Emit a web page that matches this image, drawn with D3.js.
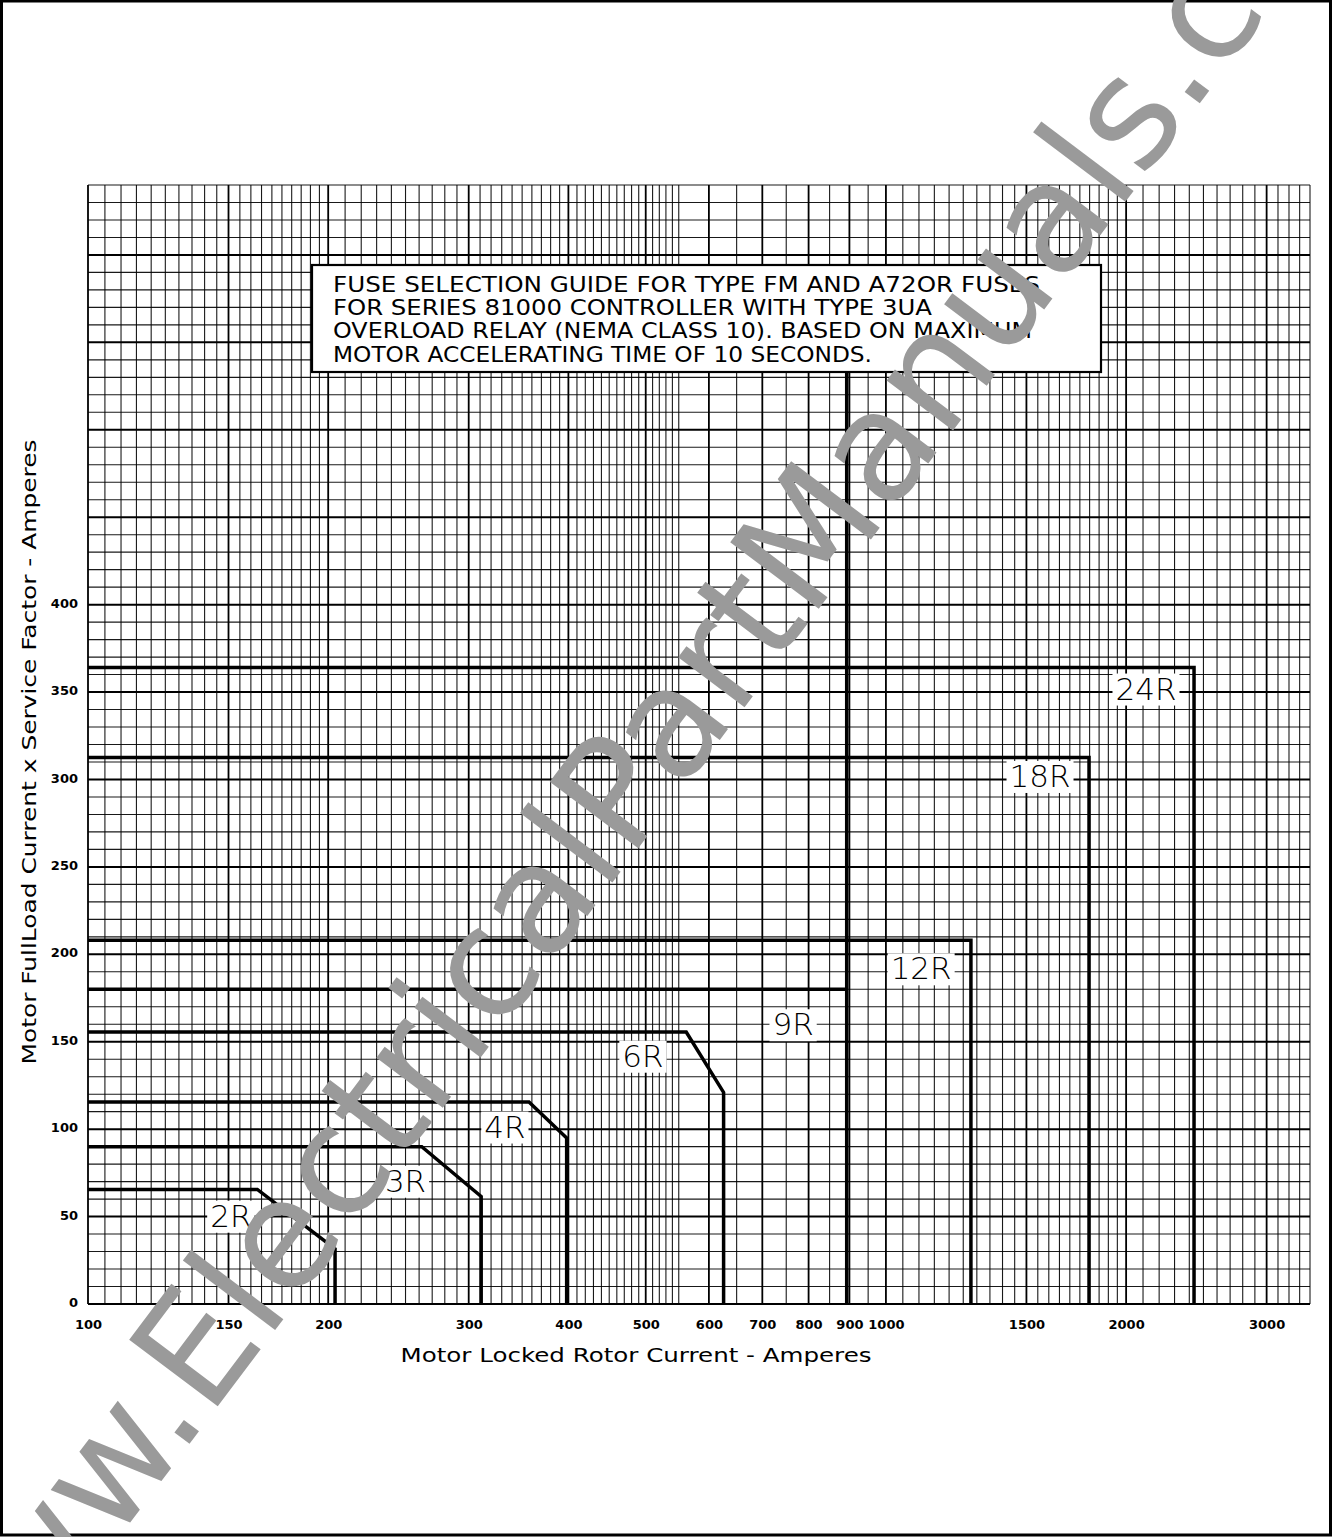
<!DOCTYPE html>
<html>
<head>
<meta charset="utf-8">
<script src="https://cdn.jsdelivr.net/npm/d3@7"></script>
<style>
  body { margin: 0; background: #fff; }
  svg text { font-family: "DejaVu Sans", sans-serif; }
  .tick-label text { font-weight: bold; font-size: 13px; fill: #000; }
</style>
</head>
<body>
<svg id="chart" width="1332" height="1537"></svg>
<script>
// ---- data ----
const xTickValues = [100, 150, 200, 300, 400, 500, 600, 700, 800, 900, 1000, 1500, 2000, 3000];
const yTickValues = [0, 50, 100, 150, 200, 250, 300, 350, 400];

// graph paper: [from, to, step] for the log axis
const xGridSteps = [[100, 200, 5], [200, 550, 10], [550, 1000, 50], [1000, 2000, 50], [2000, 3400, 100]];
const xGridMajor = [100, 150, 200, 300, 400, 500, 600, 700, 800, 900, 1000, 1500, 2000, 3000];
const yGridStep = 10;
const yGridMajorStep = 50;

const fuseNames = ["2R", "3R", "4R", "6R", "9R", "12R", "18R", "24R"];
// each fuse boundary: [locked rotor A, full load A]
const fuseCurves = [
  [[100, 65.5], [163, 65.5], [204, 31.5], [204, 0]],
  [[100, 90], [262, 90], [311, 61.5], [311, 0]],
  [[100, 115.5], [357, 115.5], [398, 95], [398, 0]],
  [[100, 155.5], [562, 155.5], [626, 121], [626, 0]],
  [[100, 180], [891, 180]],
  [[100, 208], [1278, 208], [1278, 0]],
  [[100, 312.5], [1797, 312.5], [1797, 0]],
  [[100, 364], [2433, 364], [2433, 0]]
];
// the 9R boundary drawn as one long vertical stroke up under the note box
const nineRVertical = [[893, 0], [893, 560]];
const fuseLabelPos = [
  [151, 50.5], [250, 70.5], [333, 101.5], [496, 142],
  [765, 160], [1107, 192], [1560, 302], [2118, 352]
];

const noteLines = [
  "FUSE SELECTION GUIDE FOR TYPE FM  AND A72OR FUSES",
  "FOR SERIES 81000 CONTROLLER WITH TYPE 3UA",
  "OVERLOAD RELAY (NEMA CLASS 10). BASED ON MAXIMUM",
  "MOTOR ACCELERATING TIME OF 10 SECONDS."
];
const noteLineLengths = [707, 599, 699, 539];

const xTitle = "Motor Locked Rotor Current - Amperes";
const yTitle = "Motor FullLoad Current x Service Factor - Amperes";
const watermark = "www.ElectricalPartManuals.com";

// ---- drawing ----
const svg = d3.select("#chart");

const x = d3.scaleLog().domain([100, 3400]).range([88, 1310]);
const y = d3.scaleLinear().domain([0, 640]).range([1304, 185]);

// page frame
svg.append("rect")
  .attr("x", 1.5).attr("y", 1).attr("width", 1329).attr("height", 1534)
  .attr("fill", "none").attr("stroke", "#000").attr("stroke-width", 3);

// vertical grid
const xGridValues = [];
for (const [a, b, s] of xGridSteps) {
  for (const v of d3.range(a, b, s)) xGridValues.push(v);
}
xGridValues.push(3400);

const grid = svg.append("g").attr("class", "grid");
grid.selectAll("line.vx")
  .data(xGridValues)
  .enter()
  .append("line")
  .attr("class", "vx")
  .attr("x1", (d) => x(d)).attr("x2", (d) => x(d))
  .attr("y1", y(640)).attr("y2", y(0))
  .attr("stroke", "#000")
  .attr("stroke-width", (d) => (xGridMajor.includes(d) ? 1.8 : 1.1))
  .attr("stroke-opacity", (d) => (xGridMajor.includes(d) ? 1 : 0.9));

// horizontal grid
grid.selectAll("line.hy")
  .data(d3.range(0, 641, yGridStep))
  .enter()
  .append("line")
  .attr("class", "hy")
  .attr("x1", x(100)).attr("x2", x(3400))
  .attr("y1", (d) => y(d)).attr("y2", (d) => y(d))
  .attr("stroke", "#000")
  .attr("stroke-width", (d) => (d % yGridMajorStep === 0 ? 2 : 1.1))
  .attr("stroke-opacity", (d) => (d % yGridMajorStep === 0 ? 1 : 0.9));

// axes (labels only, the paper is the grid)
const xAxis = svg.append("g")
  .attr("class", "tick-label")
  .attr("transform", `translate(0, ${y(0)})`)
  .call(d3.axisBottom(x).tickValues(xTickValues).tickFormat(d3.format("d")).tickSize(0).tickPadding(16));
xAxis.select(".domain").remove();

const yAxis = svg.append("g")
  .attr("class", "tick-label")
  .attr("transform", `translate(${x(100)}, 0)`)
  .call(d3.axisLeft(y).tickValues(yTickValues).tickSize(0).tickPadding(10));
yAxis.select(".domain").remove();
yAxis.selectAll("text").attr("dy", "0.2em");

// fuse boundaries
const line = d3.line().x((d) => x(d[0])).y((d) => y(d[1]));
const curves = svg.append("g").attr("class", "fuses");
curves.selectAll("path")
  .data(fuseCurves)
  .enter()
  .append("path")
  .attr("d", line)
  .attr("fill", "none")
  .attr("stroke", "#000")
  .attr("stroke-width", 3.5)
  .attr("stroke-linejoin", "miter");
curves.append("path")
  .datum(nineRVertical)
  .attr("d", line)
  .attr("fill", "none")
  .attr("stroke", "#000")
  .attr("stroke-width", 3.5);

// fuse labels on white patches
const labels = svg.append("g").attr("class", "fuse-labels");
fuseNames.forEach((name, i) => {
  const g = labels.append("g");
  const t = g.append("text")
    .attr("x", x(fuseLabelPos[i][0]))
    .attr("y", y(fuseLabelPos[i][1]))
    .attr("text-anchor", "middle")
    .attr("dominant-baseline", "central")
    .attr("font-size", 31)
    .attr("font-weight", 300)
    .text(name);
  const bb = t.node().getBBox();
  g.insert("rect", "text")
    .attr("x", bb.x - 3).attr("y", bb.y + 3)
    .attr("width", bb.width + 6).attr("height", bb.height - 4)
    .attr("fill", "#fff");
});

// note box
const note = svg.append("g").attr("class", "note");
note.append("rect")
  .attr("x", 312).attr("y", 265).attr("width", 789).attr("height", 107)
  .attr("fill", "#fff").attr("stroke", "#000").attr("stroke-width", 2.2);
note.selectAll("text")
  .data(noteLines)
  .enter()
  .append("text")
  .attr("x", 333)
  .attr("y", (d, i) => 292 + i * 23.2)
  .attr("font-size", 21)
  .attr("textLength", (d, i) => noteLineLengths[i])
  .attr("lengthAdjust", "spacingAndGlyphs")
  .text((d) => d);

// axis titles
svg.append("text")
  .attr("x", 636).attr("y", 1362)
  .attr("text-anchor", "middle")
  .attr("font-size", 20)
  .attr("textLength", 471)
  .attr("lengthAdjust", "spacingAndGlyphs")
  .text(xTitle);

svg.append("text")
  .attr("transform", "translate(36, 752) rotate(-90)")
  .attr("text-anchor", "middle")
  .attr("font-size", 20)
  .attr("textLength", 625)
  .attr("lengthAdjust", "spacingAndGlyphs")
  .text(yTitle);

// watermark over everything
svg.append("text")
  .attr("transform", "translate(689, 781) rotate(-53)")
  .attr("text-anchor", "middle")
  .attr("font-family", "'Liberation Sans', Arial, sans-serif")
  .attr("font-size", 152)
  .attr("fill", "#9a9a9a")
  .text(watermark);
</script>
</body>
</html>
